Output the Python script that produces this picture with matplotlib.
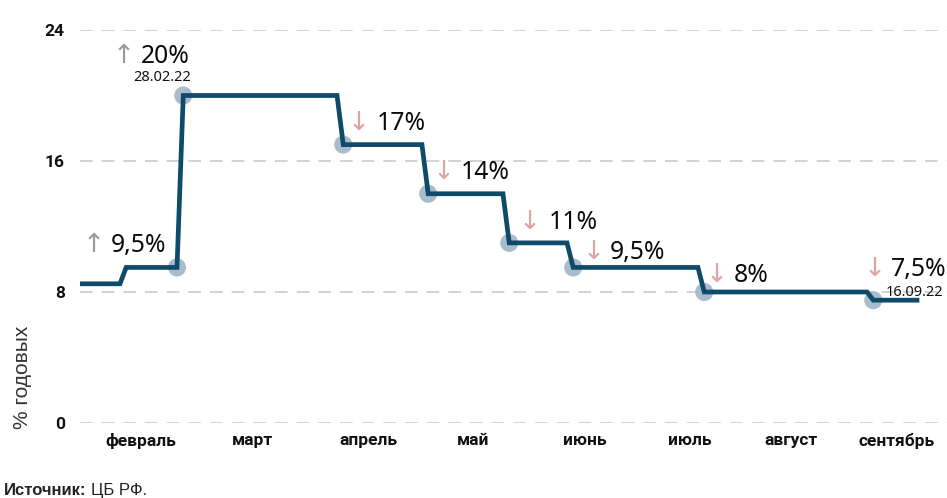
import matplotlib
matplotlib.use("Agg")
import matplotlib.pyplot as plt
from matplotlib import font_manager as fm

# ---------------- data ----------------
months = ["февраль", "март", "апрель", "май", "июнь", "июль", "август", "сентябрь"]
month_pos = [0.0, 1.03, 2.11, 3.08, 4.11, 5.09, 6.02, 7.0]

rate_levels = [8.5, 9.5, 20, 17, 14, 11, 9.5, 8, 7.5]
change_x = [-0.195, 0.334, 1.817, 2.604, 3.355, 3.948, 5.162, 6.729]
line_start = -0.547
line_end = 7.192

value_labels = ["9,5%", "20%", "17%", "14%", "11%", "9,5%", "8%", "7,5%"]
arrows = ["↑", "↑", "↓", "↓", "↓", "↓", "↓", "↓"]
date_labels = {1: "28.02.22", 7: "16.09.22"}

yticks = [0, 8, 16, 24]

# ---------------- style ----------------
LINE_C = "#0f4a6a"
MARK_C = "#9fb5c8"
UP_C = "#9a9a9a"
DOWN_C = "#e0a3a3"
STEP_W = 0.058

avail = {f.name for f in fm.fontManager.ttflist}
tick_font = ["Roboto", "DejaVu Sans"]
main_font = ["Noto Sans", "DejaVu Sans"]
narrow = "Liberation Sans Narrow" if "Liberation Sans Narrow" in avail else "Liberation Sans"

fig = plt.figure(figsize=(9.47, 4.98), dpi=100)
W, H = 947, 498
ax = fig.add_axes([80 / W, (H - 423) / H, 867 / W, (423 - 30) / H])
ax.set_xlim(-0.565, 7.47)
ax.set_ylim(0, 24)

# step line
xs = [line_start]
ys = [rate_levels[0]]
for i, cx in enumerate(change_x):
    xs += [cx, cx + STEP_W]
    ys += [rate_levels[i], rate_levels[i + 1]]
xs.append(line_end)
ys.append(rate_levels[-1])
ax.plot(xs, ys, color=LINE_C, lw=3.4, solid_joinstyle="miter", zorder=3)

# marker points: 9.5 at start of Feb-28 rise, then each new level after the step
mx = [change_x[1]] + [cx + STEP_W for cx in change_x[1:]]
my = [rate_levels[1]] + rate_levels[2:]
ax.scatter(mx, my, s=170, color=MARK_C, alpha=0.9, edgecolor="none", zorder=2)

# labels: offsets in pixels relative to marker (arrow dx, value dx, dy baseline)
offs = [(-83, -66, 15), (-60, -42, 33), (15, 33, 15), (15, 33, 15),
        (20, 40, 14), (20, 37, 8), (12, 30, 10), (1, 18, 24)]
date_offs = {1: (-21, 15), 7: (41, 4)}
for i in range(len(mx)):
    adx, vdx, dy = offs[i]
    col = UP_C if arrows[i] == "↑" else DOWN_C
    ax.annotate(arrows[i], (mx[i], my[i]), xytext=(adx, dy), textcoords="offset pixels",
                ha="center", va="baseline", fontsize=19, color=col,
                family=["DejaVu Sans"], zorder=5)
    ax.annotate(value_labels[i], (mx[i], my[i]), xytext=(vdx, dy), textcoords="offset pixels",
                ha="left", va="baseline", fontsize=17.8, color="#0a0a0a",
                family=main_font, fontweight="medium", zorder=5)
    if i in date_labels:
        ddx, ddy = date_offs[i]
        ax.annotate(date_labels[i], (mx[i], my[i]), xytext=(ddx, ddy), textcoords="offset pixels",
                    ha="center", va="baseline", fontsize=10.5, color="#111111",
                    family=main_font, zorder=5)

# grid
for y in yticks:
    ax.axhline(y, color="#cfcfcf", lw=1.3, dashes=(7, 5), zorder=1)

ax.set_yticks(yticks)
ax.set_yticklabels([str(v) for v in yticks])
ax.set_xticks(month_pos)
ax.set_xticklabels(months)
ax.tick_params(axis="both", length=0)
ax.tick_params(axis="y", pad=11)
ax.tick_params(axis="x", pad=7)
for lab in ax.get_yticklabels() + ax.get_xticklabels():
    lab.set_family(tick_font)
    lab.set_fontweight("bold")
    lab.set_fontsize(12.5)
    lab.set_color("#111111")
for s in ax.spines.values():
    s.set_visible(False)
ax.patch.set_alpha(0)

fig.text(22 / W, 1 - 377 / H, "% годовых", rotation=90, ha="center", va="center",
         fontsize=15, color="#333333", family=["Liberation Sans", "DejaVu Sans"])

t1 = fig.text(4 / W, 1 - 495 / H, "Источник:", ha="left", va="baseline", fontsize=12,
              fontweight="bold", color="#222222", family=[narrow, "DejaVu Sans"])
fig.canvas.draw()
bb = t1.get_window_extent()
fig.text((bb.x1 + 4) / W, 1 - 495 / H, "ЦБ РФ.", ha="left", va="baseline", fontsize=12,
         color="#222222", family=[narrow, "DejaVu Sans"])

fig.savefig("out.png", dpi=100)
